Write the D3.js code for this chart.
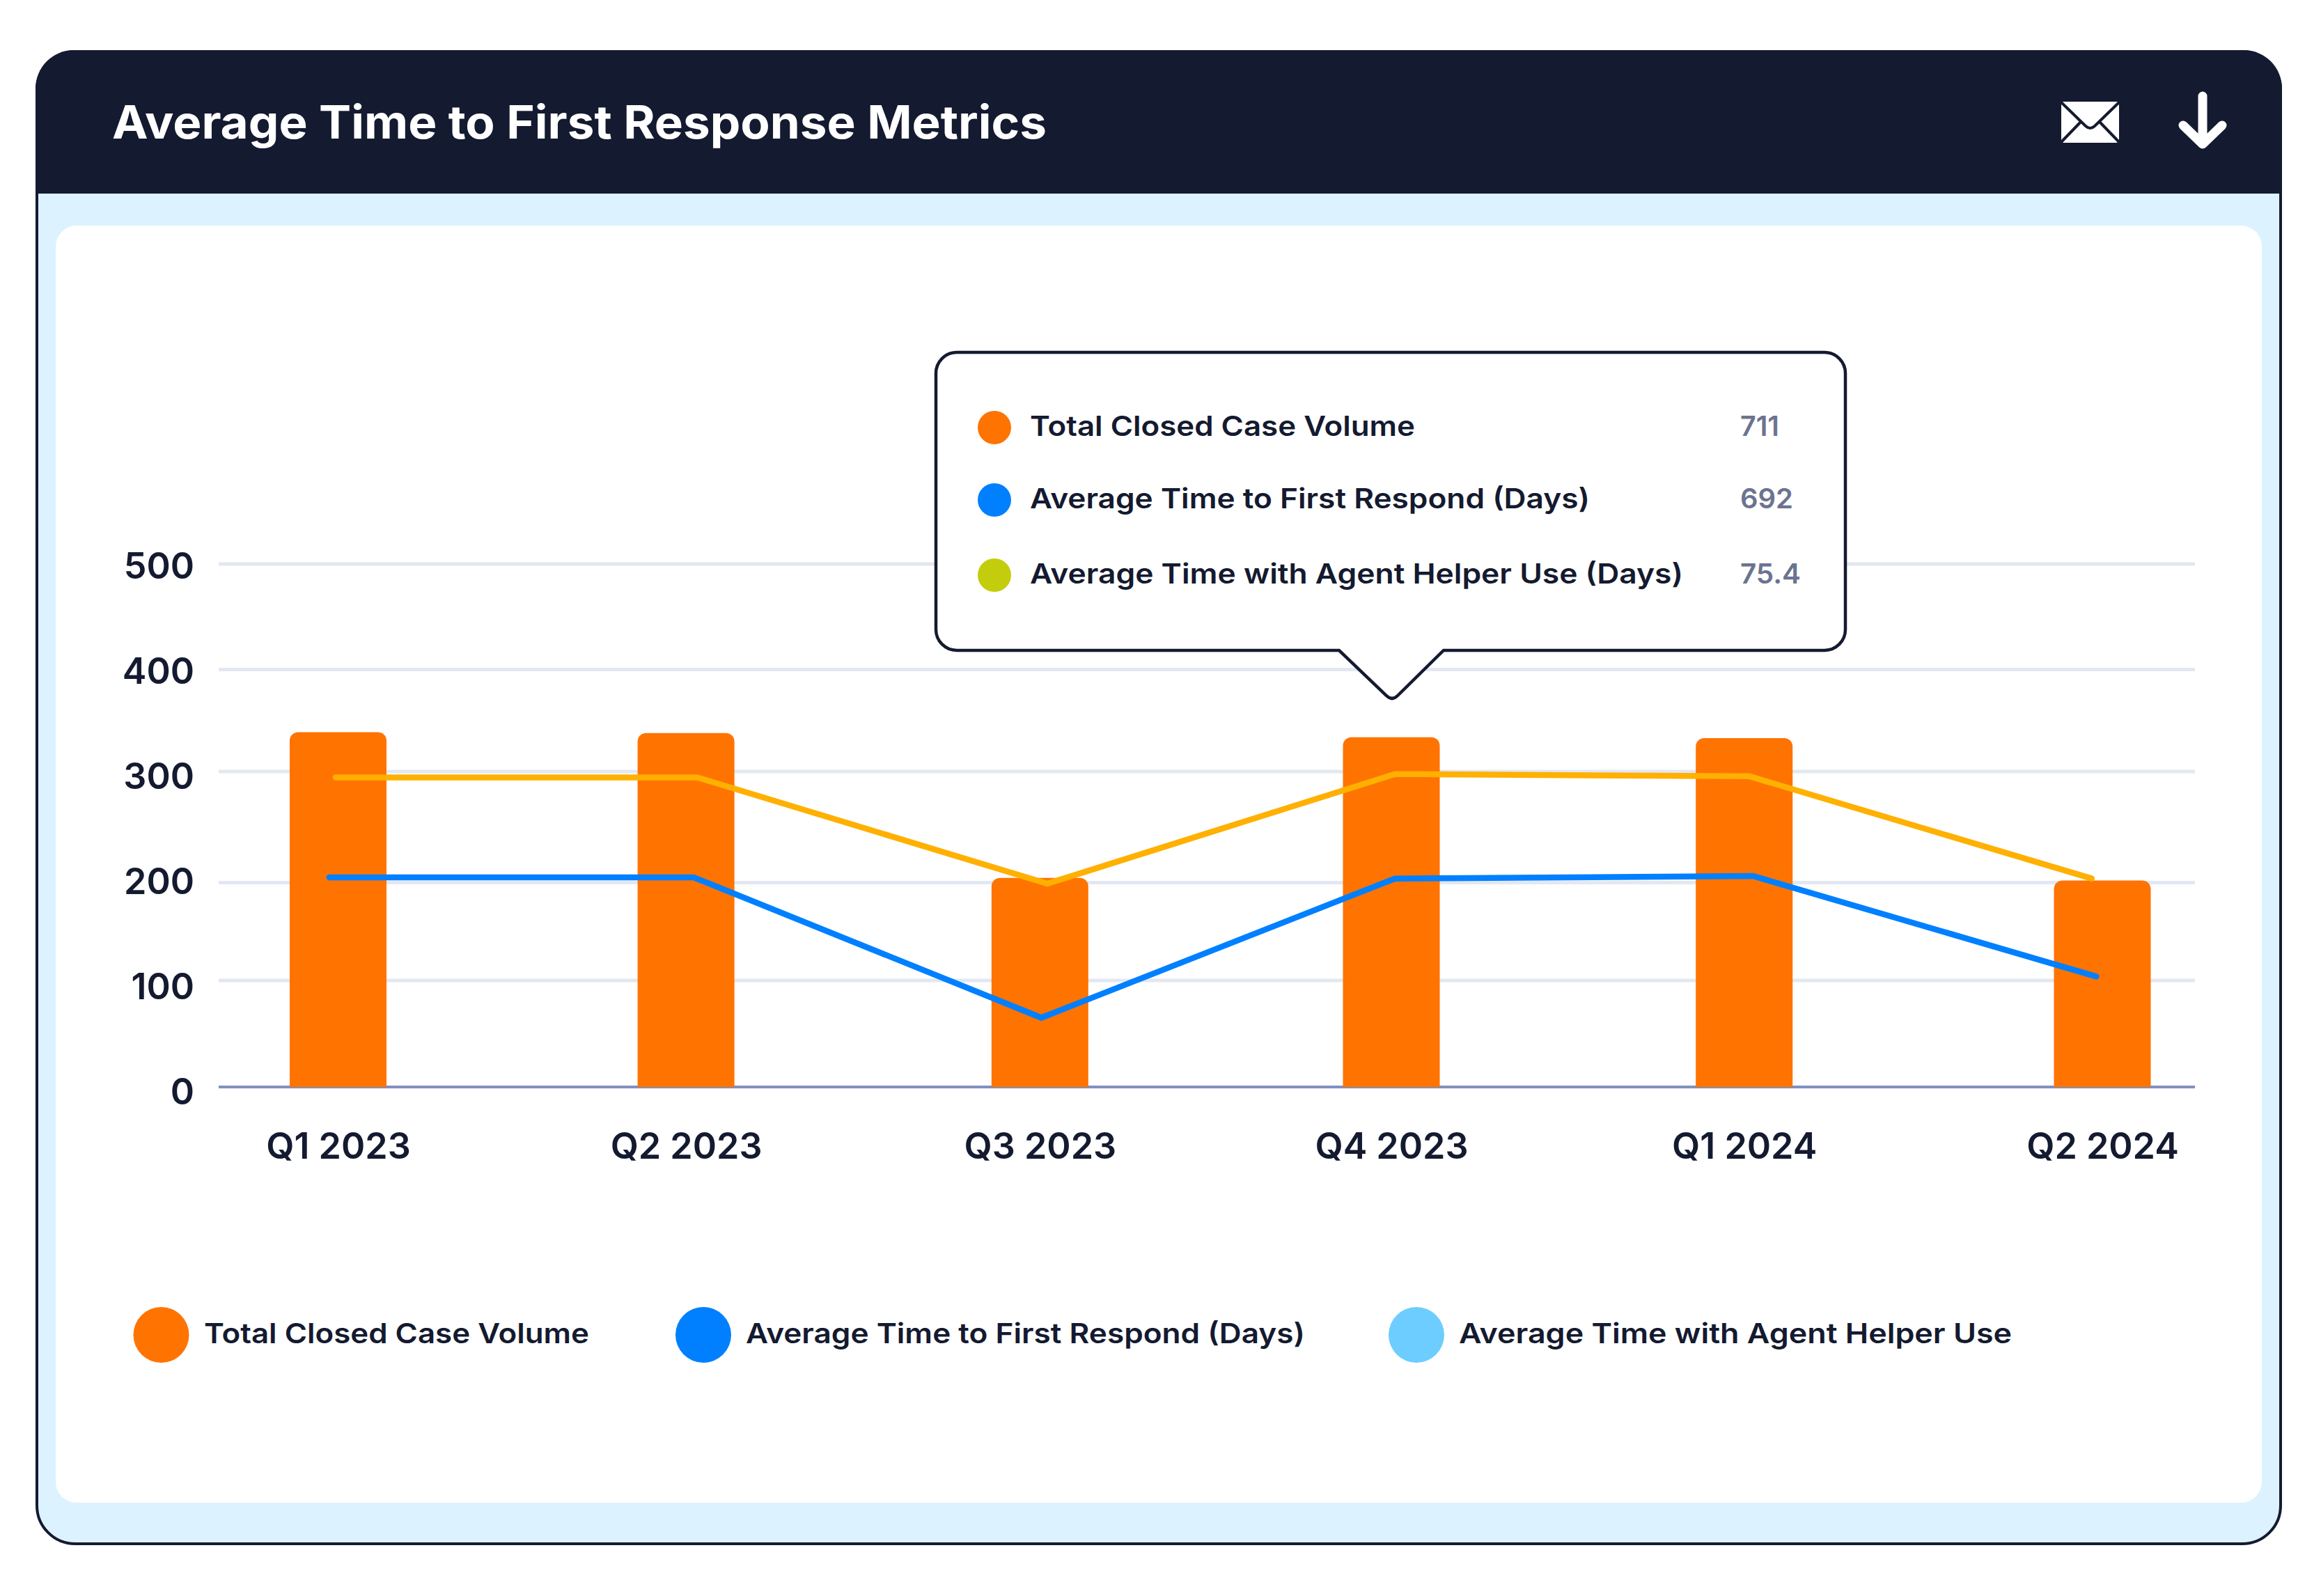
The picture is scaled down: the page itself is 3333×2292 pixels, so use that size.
<!DOCTYPE html>
<html>
<head>
<meta charset="utf-8">
<title>Average Time to First Response Metrics</title>
<script src="https://cdn.jsdelivr.net/npm/d3@7"></script>
<style>
  body { margin: 0; background: #fff; }
  text { font-family: Inter, "Noto Sans", sans-serif; fill: #141a30; }
</style>
</head>
<body>
<svg id="chart"></svg>
<script>
const quarters = ['Q1 2023', 'Q2 2023', 'Q3 2023', 'Q4 2023', 'Q1 2024', 'Q2 2024']
const yTicks = [0, 100, 200, 300, 400, 500]

// closed cases
const caseVolume = [338.6, 337.7, 204.3, 333.6, 332.8, 201.9]
// the two lines
const helperTime = [294.7, 294.7, 199, 297.7, 295.7, 203.7]
const respondTime = [204.8, 204.8, 65, 203.7, 206, 104]

// the source is hand placed, so the quarters are not evenly spaced
const barSlots = [0, 0.986, 1.989, 2.985, 3.985, 5]
const helperSlots = [-0.007, 1.018, 2.01, 2.995, 4.0, 4.97]
const respondSlots = [-0.025, 1.008, 1.993, 2.995, 4.01, 4.983]

const legendNames = ['Total Closed Case Volume', 'Average Time to First Respond (Days)', 'Average Time with Agent Helper Use']
const tipNames = ['Total Closed Case Volume', 'Average Time to First Respond (Days)', 'Average Time with Agent Helper Use (Days)']
const tipValues = ['711', '692', '75.4']

const ink = '#141a30'
const orange = '#ff7300'
const blue = '#0080ff'
const sky = '#6dcdff'
const amber = '#ffb000'
const lime = '#c3cd0c'

const width = 3333
const height = 2292

const svg = d3.select('#chart').attr('width', width).attr('height', height)

// stretches a text to the width it has in the reference
function fit(sel, w) {
    sel.attr('textLength', w).attr('lengthAdjust', 'spacingAndGlyphs')
}

// ---- card ----
svg.append('rect')
    .attr('x', 53).attr('y', 74).attr('width', 3222).attr('height', 2143)
    .attr('rx', 55)
    .attr('fill', '#dcf2ff').attr('stroke', ink).attr('stroke-width', 4)

svg.append('path')
    .attr('d', 'M51,278 V127 A55,55 0 0 1 106,72 H3222 A55,55 0 0 1 3277,127 V278 Z')
    .attr('fill', ink)

svg.append('rect')
    .attr('x', 80).attr('y', 324).attr('width', 3168).attr('height', 1834)
    .attr('rx', 30)
    .attr('fill', '#fff')

svg.append('text')
    .text('Average Time to First Response Metrics')
    .attr('x', 161).attr('y', 199)
    .attr('font-size', 66).attr('font-weight', 700)
    .style('fill', '#fff')
    .call(fit, 1342)

// mail icon
const mail = svg.append('g').attr('transform', 'translate(2960,146)')
mail.append('rect').attr('width', 83).attr('height', 59).attr('rx', 4).attr('fill', '#fff')
mail.append('path')
    .attr('d', 'M0,1 L35,35 Q41.5,41 48,35 L83,1 M0,58 L28,29 M83,58 L55,29')
    .attr('fill', 'none').attr('stroke', ink).attr('stroke-width', 4)

// download icon
svg.append('path')
    .attr('d', 'M3163,138 V205 M3135,180 L3163,207 L3191,180')
    .attr('fill', 'none').attr('stroke', '#fff').attr('stroke-width', 13)
    .attr('stroke-linecap', 'round').attr('stroke-linejoin', 'round')

// ---- chart ----
const plotLeft = 314
const plotRight = 3152

const x = d3.scaleLinear().domain([0, 5]).range([485.5, 3019])
// gridlines in the source are not evenly spaced, the tick labels are
const y = d3.scaleLinear().domain(yTicks).range([1561, 1408, 1267.6, 1108, 961.5, 810])
const yLabels = d3.scaleLinear().domain([0, 500]).range([1567, 812])

const gridG = svg.append('g').attr('class', 'grid')
gridG.selectAll('line')
    .data(yTicks)
    .join('line')
    .attr('x1', plotLeft).attr('x2', plotRight)
    .attr('y1', d => y(d)).attr('y2', d => y(d))
    .attr('stroke', d => d === 0 ? '#8190bd' : '#e3e7f1')
    .attr('stroke-width', d => d === 0 ? 4 : 5)

const yAxis = d3.axisLeft(yLabels)
    .tickValues(yTicks)
    .tickSize(0)
    .tickPadding(35)

const yG = svg.append('g')
    .attr('transform', `translate(${plotLeft},0)`)
    .call(yAxis)
yG.select('.domain').remove()
yG.selectAll('text')
    .attr('dy', '0.36em')
    .attr('font-size', 52).attr('font-weight', 600)
    .style('font-family', 'Inter').style('fill', ink)

const xAxis = d3.axisBottom(x)
    .tickValues(barSlots)
    .tickFormat((d, i) => quarters[i])
    .tickSize(0)
    .tickPadding(68)

const xG = svg.append('g')
    .attr('transform', `translate(0,${y(0)})`)
    .call(xAxis)
xG.select('.domain').remove()
xG.selectAll('text')
    .attr('dy', 0)
    .attr('font-size', 52).attr('font-weight', 600)
    .style('font-family', 'Inter').style('fill', ink)
    .attr('transform', 'translate(0,35)')

// bars with rounded tops
const barWidth = 139
const barRadius = 12
svg.append('g').selectAll('path')
    .data(caseVolume)
    .join('path')
    .attr('fill', orange)
    .attr('d', (d, i) => {
        const left = x(barSlots[i]) - barWidth / 2
        const p = d3.path()
        p.moveTo(left, y(0))
        p.lineTo(left, y(d) + barRadius)
        p.arcTo(left, y(d), left + barRadius, y(d), barRadius)
        p.lineTo(left + barWidth - barRadius, y(d))
        p.arcTo(left + barWidth, y(d), left + barWidth, y(d) + barRadius, barRadius)
        p.lineTo(left + barWidth, y(0))
        p.closePath()
        return p.toString()
    })

function drawLine(values, slots, color) {
    const line = d3.line()
        .x((d, i) => x(slots[i]))
        .y(d => y(d))
    svg.append('path')
        .datum(values)
        .attr('d', line)
        .attr('fill', 'none')
        .attr('stroke', color)
        .attr('stroke-width', 8.5)
        .attr('stroke-linecap', 'round')
        .attr('stroke-linejoin', 'miter')
}
drawLine(helperTime, helperSlots, amber)
drawLine(respondTime, respondSlots, blue)

// ---- tooltip ----
svg.append('path')
    .attr('d', 'M1374,506 H2620 A30,30 0 0 1 2650,536 V904 A30,30 0 0 1 2620,934 H2073 L2007,999 Q1999,1007 1991,999 L1923,934 H1374 A30,30 0 0 1 1344,904 V536 A30,30 0 0 1 1374,506 Z')
    .attr('fill', '#fff').attr('stroke', ink).attr('stroke-width', 4.5)

const tipY = [614, 718, 826]
const tipColors = [orange, blue, lime]
const tipNameWidths = [553, 804, 938]
const tipValueWidths = [56, 76, 87]

tipNames.forEach((name, i) => {
    svg.append('circle')
        .attr('cx', 1428).attr('cy', tipY[i]).attr('r', 24)
        .attr('fill', tipColors[i])
    svg.append('text')
        .text(name)
        .attr('x', 1479).attr('y', tipY[i] + 12)
        .attr('font-size', 40).attr('font-weight', 600)
        .call(fit, tipNameWidths[i])
    svg.append('text')
        .text(tipValues[i])
        .attr('x', 2499).attr('y', tipY[i] + 12)
        .attr('font-size', 40).attr('font-weight', 600)
        .style('fill', '#6b7390')
        .call(fit, tipValueWidths[i])
})

// ---- legend ----
const legendCx = [231.5, 1010, 2034]
const legendTextX = [293, 1071, 2095]
const legendWidths = [553, 803, 794]
const legendColors = [orange, blue, sky]

legendNames.forEach((name, i) => {
    svg.append('circle')
        .attr('cx', legendCx[i]).attr('cy', 1917).attr('r', 40)
        .attr('fill', legendColors[i])
    svg.append('text')
        .text(name)
        .attr('x', legendTextX[i]).attr('y', 1929)
        .attr('font-size', 40).attr('font-weight', 600)
        .call(fit, legendWidths[i])
})
</script>
</body>
</html>
